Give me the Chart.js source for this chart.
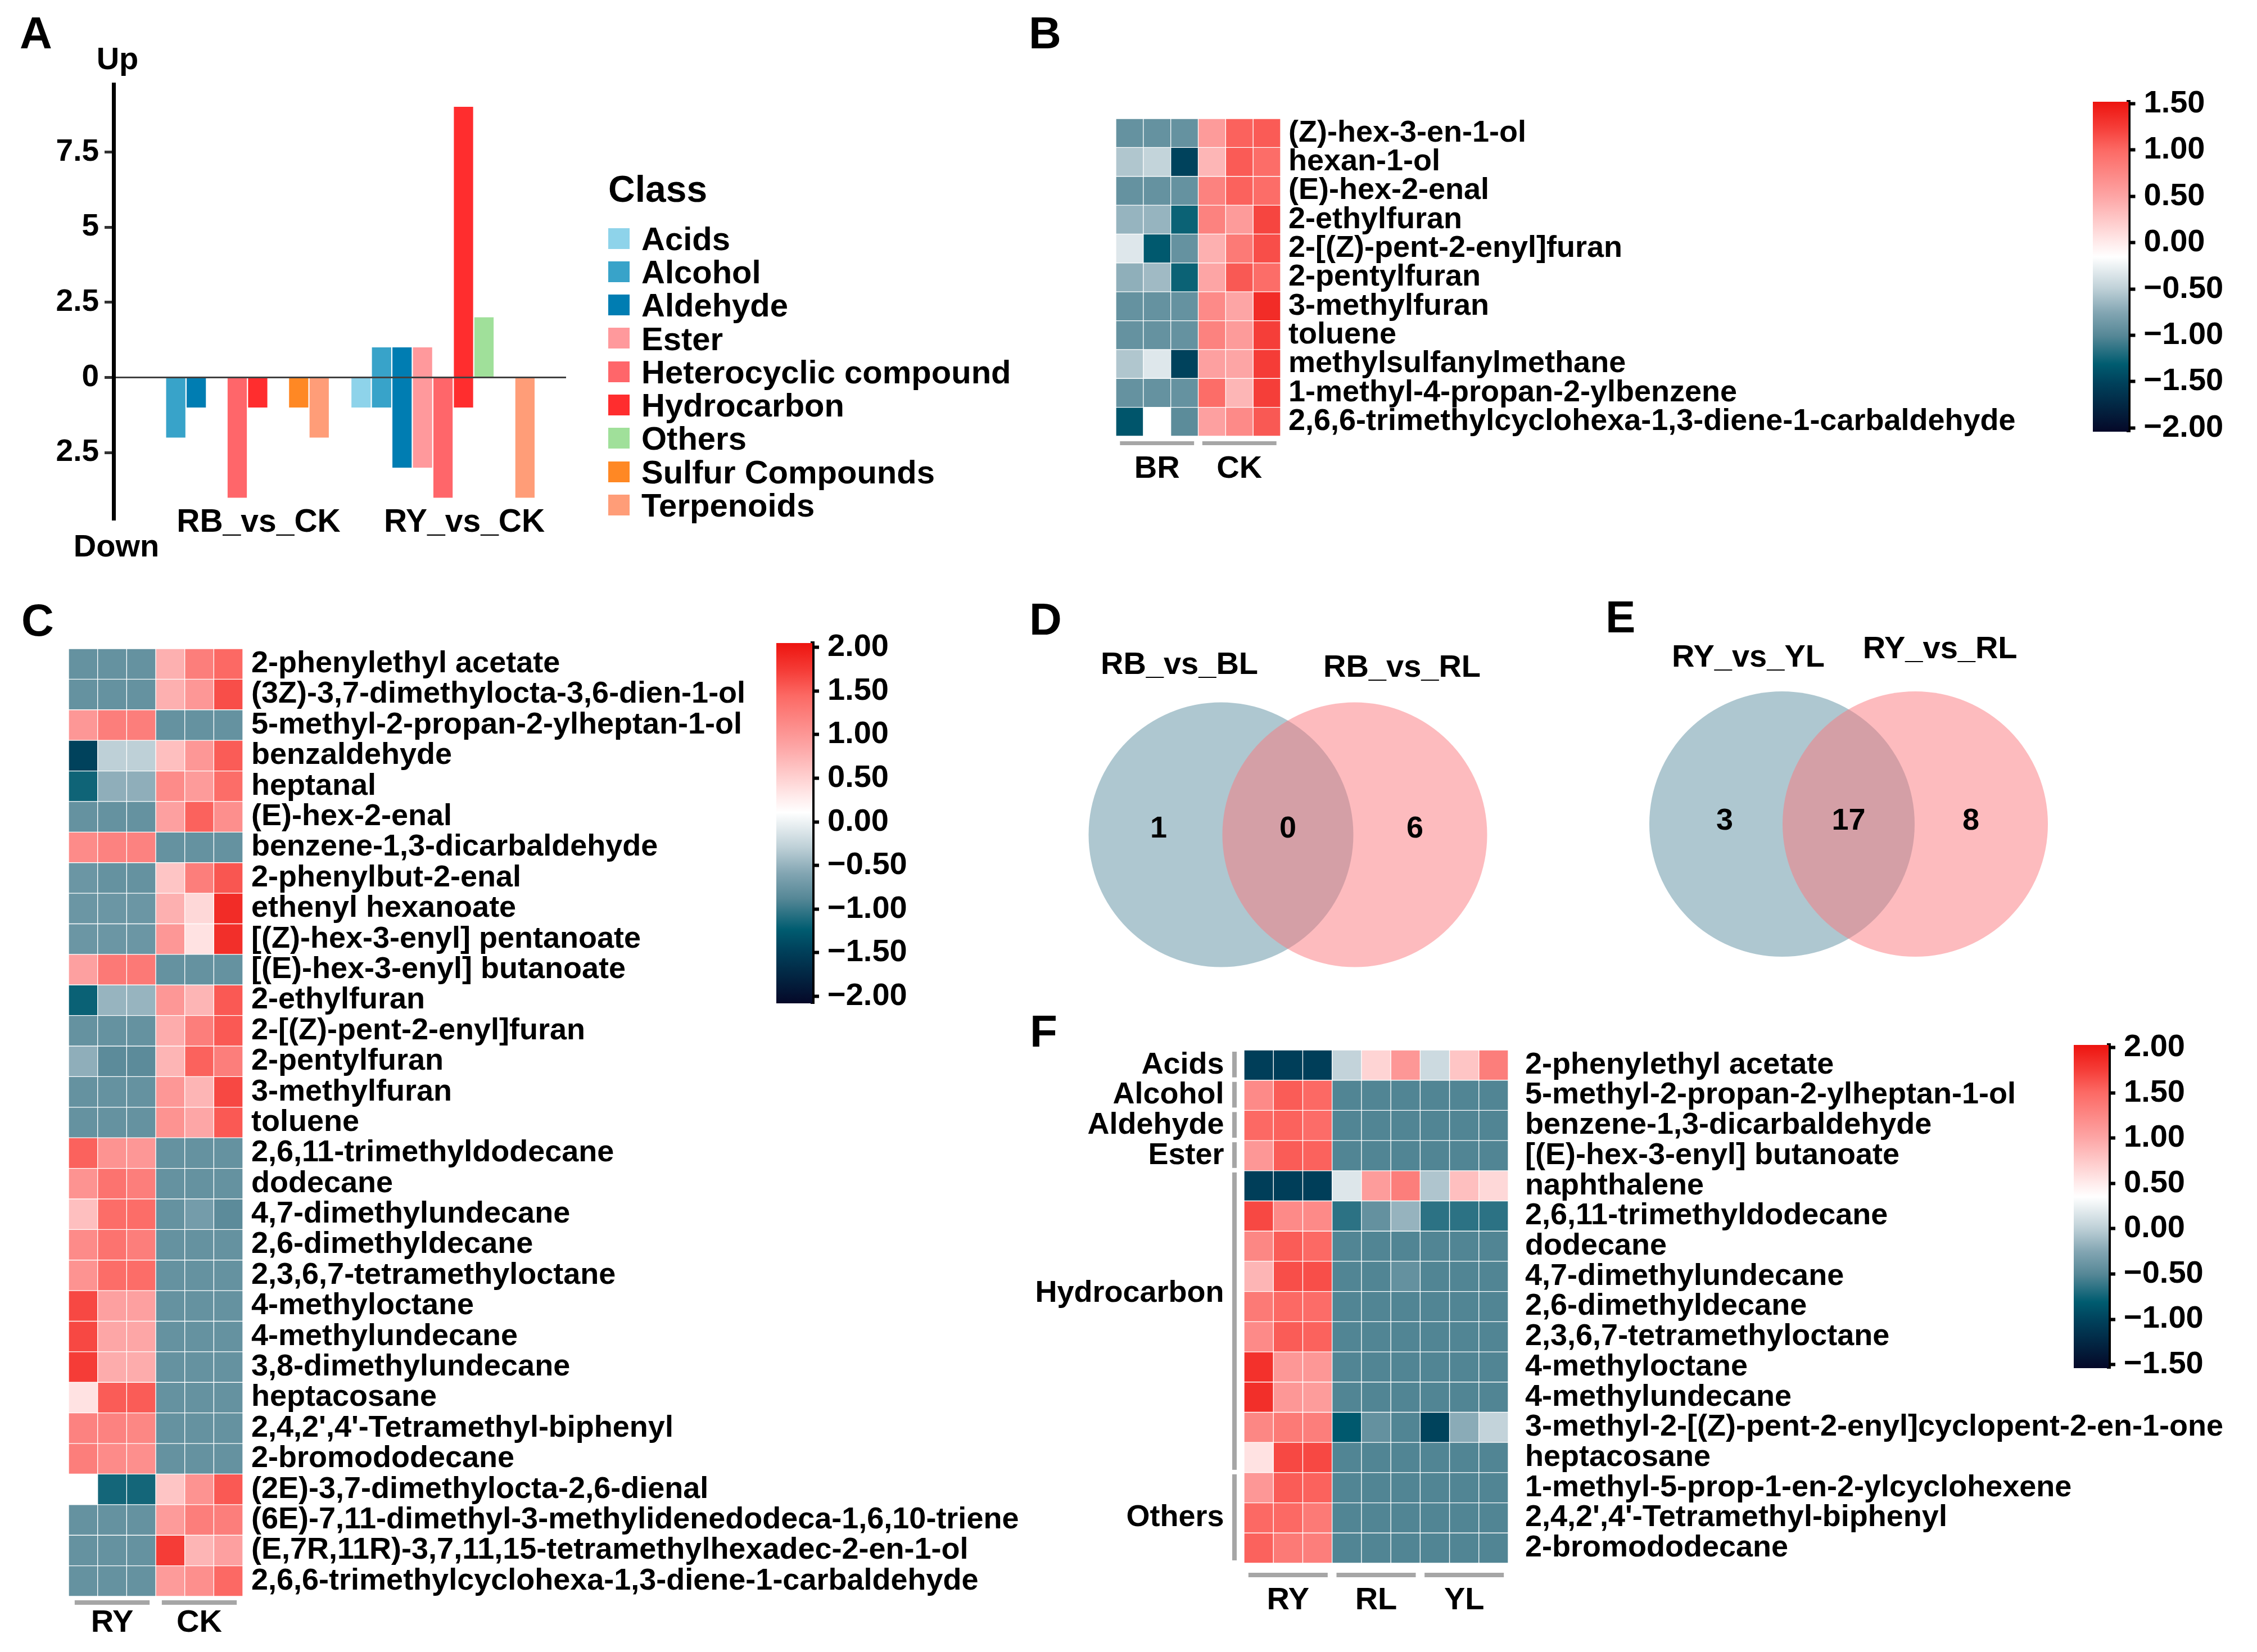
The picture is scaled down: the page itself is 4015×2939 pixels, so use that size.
<!DOCTYPE html>
<html>
<head>
<meta charset="utf-8">
<script src="https://cdn.jsdelivr.net/npm/chart.js@4.4.1/dist/chart.umd.min.js"></script>
<style>
  html, body { margin: 0; padding: 0; background: #fff; }
  #page { position: relative; width: 4015px; height: 2939px; overflow: hidden;
          font-family: 'Liberation Sans', Arial, sans-serif; font-weight: bold; color: #000; }
  canvas { position: absolute; }
  .txt { position: absolute; line-height: 1; white-space: nowrap; }
  .box { position: absolute; }
</style>
</head>
<body>
<div id="page">
  <canvas id="chartA" width="1010" height="1000" style="left:0px;top:0px"></canvas>
  <canvas id="heatB" width="1650" height="700" style="left:1985px;top:211px"></canvas>
  <canvas id="barB" width="292" height="687" style="left:3723px;top:131px"></canvas>
  <canvas id="heatC" width="1760" height="1785" style="left:122px;top:1154px"></canvas>
  <canvas id="barC" width="300" height="741" style="left:1381px;top:1094px"></canvas>
  <canvas id="vennD" width="800" height="660" style="left:1900px;top:1120px"></canvas>
  <canvas id="vennE" width="800" height="680" style="left:2900px;top:1090px"></canvas>
  <canvas id="heatF" width="2180" height="1071" style="left:1830px;top:1868px"></canvas>
  <canvas id="barF" width="320" height="675" style="left:3689px;top:1809px"></canvas>
</div>
<script>
// ---- Panel A data ----
const comparisons = ['RB_vs_CK', 'RY_vs_CK'];
const classes = ['Acids', 'Alcohol', 'Aldehyde', 'Ester', 'Heterocyclic compound',
                 'Hydrocarbon', 'Others', 'Sulfur Compounds', 'Terpenoids'];
const classColors = ['#8ED3EA', '#38A3C9', '#007DB2', '#FF999C', '#FF666A',
                     '#FF2D2E', '#A0E09A', '#FF8824', '#FF9D78'];
const upRB = [0, 0, 0, 0, 0, 0, 0, 0, 0];
const upRY = [0, 1, 1, 1, 0, 9, 2, 0, 0];
const downRB = [0, 2, 1, 0, 4, 1, 0, 1, 2];
const downRY = [1, 1, 3, 3, 4, 1, 0, 0, 4];
const yTicksA = [-2.5, 0, 2.5, 5, 7.5];

// ---- Panel B data ----
const bRows = ['(Z)-hex-3-en-1-ol', 'hexan-1-ol', '(E)-hex-2-enal', '2-ethylfuran',
  '2-[(Z)-pent-2-enyl]furan', '2-pentylfuran', '3-methylfuran', 'toluene',
  'methylsulfanylmethane', '1-methyl-4-propan-2-ylbenzene',
  '2,6,6-trimethylcyclohexa-1,3-diene-1-carbaldehyde'];
const bGroups = ['BR', 'CK'];
const bValues = [
  [-0.92, -0.92, -0.92, 0.58, 1.04, 1.08],
  [-0.56, -0.47, -1.51, 0.38, 1.08, 0.97],
  [-0.92, -0.92, -0.92, 0.79, 1.04, 0.97],
  [-0.67, -0.67, -1.27, 0.79, 0.58, 1.20],
  [-0.33, -1.33, -0.92, 0.42, 0.86, 1.15],
  [-0.70, -0.63, -1.27, 0.50, 1.09, 0.97],
  [-0.92, -0.92, -0.92, 0.72, 0.50, 1.36],
  [-0.92, -0.92, -0.92, 0.79, 0.58, 1.24],
  [-0.56, -0.33, -1.51, 0.54, 0.50, 1.25],
  [-0.92, -0.92, -0.92, 0.97, 0.38, 1.24],
  [-1.36, -0.15, -0.97, 0.54, 0.72, 1.09]
];
const bRange = [-2.04, 1.52];
const bTicks = [-2, -1.5, -1, -0.5, 0, 0.5, 1, 1.5];

// ---- Panel C data ----
const cRows = ['2-phenylethyl acetate', '(3Z)-3,7-dimethylocta-3,6-dien-1-ol',
  '5-methyl-2-propan-2-ylheptan-1-ol', 'benzaldehyde', 'heptanal', '(E)-hex-2-enal',
  'benzene-1,3-dicarbaldehyde', '2-phenylbut-2-enal', 'ethenyl hexanoate',
  '[(Z)-hex-3-enyl] pentanoate', '[(E)-hex-3-enyl] butanoate', '2-ethylfuran',
  '2-[(Z)-pent-2-enyl]furan', '2-pentylfuran', '3-methylfuran', 'toluene',
  '2,6,11-trimethyldodecane', 'dodecane', '4,7-dimethylundecane', '2,6-dimethyldecane',
  '2,3,6,7-tetramethyloctane', '4-methyloctane', '4-methylundecane', '3,8-dimethylundecane',
  'heptacosane', "2,4,2',4'-Tetramethyl-biphenyl", '2-bromododecane',
  '(2E)-3,7-dimethylocta-2,6-dienal', '(6E)-7,11-dimethyl-3-methylidenedodeca-1,6,10-triene',
  '(E,7R,11R)-3,7,11,15-tetramethylhexadec-2-en-1-ol',
  '2,6,6-trimethylcyclohexa-1,3-diene-1-carbaldehyde'];
const cGroups = ['RY', 'CK'];
const cValues = [
  [-0.78, -0.78, -0.78, 0.77, 1.24, 1.45],
  [-0.78, -0.78, -0.78, 0.77, 1.00, 1.62],
  [1.00, 1.24, 1.24, -0.78, -0.78, -0.78],
  [-1.46, -0.29, -0.29, 0.65, 1.00, 1.53],
  [-1.17, -0.53, -0.53, 1.12, 0.96, 1.41],
  [-0.78, -0.78, -0.78, 0.91, 1.49, 1.08],
  [1.12, 1.20, 1.20, -0.78, -0.78, -0.78],
  [-0.74, -0.78, -0.78, 0.60, 1.24, 1.57],
  [-0.74, -0.74, -0.74, 0.77, 0.44, 1.86],
  [-0.74, -0.74, -0.74, 1.00, 0.36, 1.84],
  [0.91, 1.29, 1.29, -0.78, -0.78, -0.78],
  [-1.19, -0.49, -0.49, 1.00, 0.73, 1.55],
  [-0.78, -0.78, -0.78, 0.81, 1.24, 1.55],
  [-0.53, -0.84, -0.84, 0.73, 1.49, 1.24],
  [-0.78, -0.78, -0.78, 1.00, 0.73, 1.66],
  [-0.78, -0.78, -0.78, 1.04, 0.86, 1.55],
  [1.49, 1.04, 1.00, -0.78, -0.78, -0.78],
  [1.04, 1.35, 1.24, -0.78, -0.78, -0.78],
  [0.65, 1.41, 1.41, -0.78, -0.68, -0.84],
  [1.12, 1.35, 1.24, -0.78, -0.78, -0.78],
  [1.04, 1.41, 1.41, -0.78, -0.78, -0.78],
  [1.66, 0.91, 0.91, -0.78, -0.78, -0.78],
  [1.66, 0.86, 0.86, -0.78, -0.78, -0.78],
  [1.74, 0.81, 0.81, -0.78, -0.78, -0.78],
  [0.36, 1.53, 1.53, -0.78, -0.78, -0.78],
  [1.20, 1.20, 1.16, -0.78, -0.78, -0.78],
  [1.24, 1.12, 1.08, -0.78, -0.78, -0.78],
  [0.11, -1.15, -1.15, 0.60, 1.04, 1.55],
  [-0.78, -0.78, -0.78, 0.96, 1.24, 1.24],
  [-0.78, -0.78, -0.78, 1.74, 0.73, 0.91],
  [-0.78, -0.78, -0.78, 0.96, 1.08, 1.45]
];
const cRange = [-2.08, 2.05];
const cTicks = [-2, -1.5, -1, -0.5, 0, 0.5, 1, 1.5, 2];

// ---- Panels D and E data ----
const dSets = ['RB_vs_BL', 'RB_vs_RL'];
const dCounts = [1, 0, 6];
const eSets = ['RY_vs_YL', 'RY_vs_RL'];
const eCounts = [3, 17, 8];

// ---- Panel F data ----
const fRows = ['2-phenylethyl acetate', '5-methyl-2-propan-2-ylheptan-1-ol',
  'benzene-1,3-dicarbaldehyde', '[(E)-hex-3-enyl] butanoate', 'naphthalene',
  '2,6,11-trimethyldodecane', 'dodecane', '4,7-dimethylundecane', '2,6-dimethyldecane',
  '2,3,6,7-tetramethyloctane', '4-methyloctane', '4-methylundecane',
  '3-methyl-2-[(Z)-pent-2-enyl]cyclopent-2-en-1-one', 'heptacosane',
  '1-methyl-5-prop-1-en-2-ylcyclohexene', "2,4,2',4'-Tetramethyl-biphenyl", '2-bromododecane'];
const fGroups = ['RY', 'RL', 'YL'];
const fClassNames = ['Acids', 'Alcohol', 'Aldehyde', 'Ester', 'Hydrocarbon', 'Others'];
const fClassSizes = [1, 1, 1, 1, 10, 3];
const fValues = [
  [-1.04, -1.04, -1.04, 0.03, 0.67, 1.12, 0.08, 0.78, 1.33],
  [1.23, 1.58, 1.51, -0.52, -0.52, -0.52, -0.52, -0.52, -0.52],
  [1.51, 1.55, 1.48, -0.52, -0.52, -0.52, -0.52, -0.52, -0.52],
  [1.12, 1.58, 1.55, -0.52, -0.52, -0.52, -0.52, -0.52, -0.52],
  [-1.04, -1.04, -1.04, 0.17, 1.08, 1.33, -0.06, 0.82, 0.64],
  [1.69, 1.23, 1.23, -0.65, -0.42, -0.17, -0.65, -0.65, -0.65],
  [1.26, 1.58, 1.51, -0.52, -0.52, -0.52, -0.52, -0.52, -0.52],
  [0.89, 1.66, 1.66, -0.52, -0.52, -0.42, -0.52, -0.52, -0.52],
  [1.37, 1.51, 1.48, -0.52, -0.52, -0.52, -0.52, -0.52, -0.52],
  [1.23, 1.58, 1.55, -0.52, -0.52, -0.52, -0.52, -0.52, -0.52],
  [1.83, 1.12, 1.12, -0.52, -0.52, -0.52, -0.52, -0.52, -0.52],
  [1.85, 1.12, 1.08, -0.52, -0.52, -0.52, -0.52, -0.52, -0.52],
  [1.26, 1.37, 1.33, -0.83, -0.42, -0.52, -1.00, -0.22, 0.03],
  [0.57, 1.69, 1.69, -0.52, -0.52, -0.52, -0.52, -0.52, -0.52],
  [1.12, 1.58, 1.55, -0.52, -0.52, -0.52, -0.52, -0.52, -0.52],
  [1.51, 1.51, 1.37, -0.52, -0.52, -0.52, -0.52, -0.52, -0.52],
  [1.55, 1.37, 1.33, -0.52, -0.52, -0.52, -0.52, -0.52, -0.52]
];
const fRange = [-1.54, 2.03];
const fTicks = [-1.5, -1, -0.5, 0, 0.5, 1, 1.5, 2];

// Colour ramp (navy - teal - white - red)
const palette = [
  [0.000, [5, 8, 40]],
  [0.150, [0, 66, 92]],
  [0.205, [0, 92, 112]],
  [0.290, [85, 135, 150]],
  [0.360, [130, 165, 178]],
  [0.433, [190, 208, 215]],
  [0.530, [255, 255, 255]],
  [0.573, [255, 235, 235]],
  [0.713, [253, 165, 165]],
  [0.854, [252, 105, 100]],
  [0.924, [245, 60, 55]],
  [1.000, [237, 20, 15]]
];

const FONT = "'Liberation Sans', Arial, sans-serif";
Chart.defaults.font.family = FONT;
Chart.defaults.font.weight = 'bold';
Chart.defaults.color = '#000';
Chart.defaults.animation = false;
Chart.defaults.plugins.legend.display = false;
Chart.defaults.plugins.tooltip.enabled = false;

const page = document.getElementById('page');

function paletteColor(t) {
    t = Math.max(0, Math.min(1, t));
    for (let i = 1; i < palette.length; i++) {
        const [t1, c1] = palette[i];
        if (t <= t1) {
            const [t0, c0] = palette[i - 1];
            const f = (t - t0) / (t1 - t0);
            return 'rgb(' + c0.map((v, k) => Math.round(v + (c1[k] - v) * f)).join(',') + ')';
        }
    }
    return 'rgb(' + palette[palette.length - 1][1].join(',') + ')';
}

function fmtKey(v) {
    return (v < 0 ? '\u2212' : '') + Math.abs(v).toFixed(2);
}

// Plain text placed by cap top
function addText(text, x, capTop, size, align) {
    const d = document.createElement('div');
    d.className = 'txt';
    d.textContent = text;
    d.style.fontSize = size + 'px';
    d.style.top = (capTop - 0.13 * size) + 'px';
    d.style.left = x + 'px';
    if (align === 'center') d.style.transform = 'translateX(-50%)';
    page.appendChild(d);
}

// Gray bars under column groups
const groupBars = {
    id: 'groupBars',
    afterDraw(chart, args, o) {
        const {ctx, chartArea, scales: {x}} = chart;
        ctx.save();
        ctx.fillStyle = '#A6A6A6';
        o.spans.forEach(([a, b]) => {
            const x1 = x.getPixelForValue(a);
            const x2 = x.getPixelForValue(b);
            const w = x2 - x1;
            ctx.fillRect(x1 + w * o.inset, chartArea.bottom + o.gap, w * (1 - 2 * o.inset), o.thick);
        });
        ctx.restore();
    }
};

// Row class annotation on the left of panel F
const sideGroups = {
    id: 'sideGroups',
    afterDraw(chart, args, o) {
        if (!o.names) return;
        const {ctx, chartArea, scales: {y}} = chart;
        const h = (chartArea.bottom - chartArea.top) / chart.data.labels.length;
        let start = 0;
        ctx.save();
        ctx.font = 'bold 54px ' + FONT;
        ctx.textAlign = 'right';
        ctx.textBaseline = 'middle';
        o.names.forEach((name, k) => {
            const end = start + o.sizes[k] - 1;
            const top = y.getPixelForValue(start) - h / 2;
            const bottom = y.getPixelForValue(end) + h / 2;
            ctx.fillStyle = '#A6A6A6';
            ctx.fillRect(chartArea.left - 21, top + 3, 8, bottom - top - 8);
            ctx.fillStyle = '#000';
            ctx.fillText(name, chartArea.left - 35.5, (top + bottom) / 2 + (o.shift[k] || 0));
            start = end + 1;
        });
        ctx.restore();
    }
};

// Heatmap made of floating horizontal bars, one dataset per sample column
function drawHeatmap(id, rows, groups, values, range, lay) {
    const nCols = values[0].length;
    const per = nCols / groups.length;
    const centers = groups.map((g, k) => k * per + per / 2);
    const datasets = [];
    for (let j = 0; j < nCols; j++) {
        datasets.push({
            data: rows.map(() => [j, j + 1]),
            backgroundColor: values.map(r => paletteColor((r[j] - range[0]) / (range[1] - range[0]))),
            borderColor: '#ffffff',
            borderWidth: 1,
            borderSkipped: false,
            barPercentage: 1,
            categoryPercentage: 1,
            grouped: false
        });
    }
    new Chart(document.getElementById(id), {
        type: 'bar',
        data: { labels: rows, datasets },
        options: {
            indexAxis: 'y',
            responsive: false,
            devicePixelRatio: 1,
            layout: { padding: { left: lay.padLeft || 0, top: 0, right: 0, bottom: 0 } },
            scales: {
                x: {
                    type: 'linear', min: 0, max: nCols, offset: false,
                    grid: { display: false, drawTicks: false },
                    border: { display: false },
                    afterBuildTicks: s => { s.ticks = centers.map(v => ({ value: v })); },
                    ticks: {
                        callback: v => groups[centers.indexOf(v)],
                        font: { size: 56, lineHeight: 1 },
                        padding: lay.xPad, maxRotation: 0, minRotation: 0, autoSkip: false
                    },
                    afterFit: s => { s.height = lay.xHeight; }
                },
                y: {
                    type: 'category', position: 'right',
                    grid: { display: false, drawTicks: false },
                    border: { display: false },
                    ticks: { autoSkip: false, font: { size: 54, lineHeight: 1 }, padding: lay.yPad },
                    afterFit: s => {
                        s.width = lay.yWidth;
                        s.paddingTop = 0;
                        s.paddingBottom = 0;
                    }
                }
            },
            plugins: {
                groupBars: {
                    spans: groups.map((g, k) => [k * per, (k + 1) * per]),
                    gap: lay.barGap, thick: lay.barThick, inset: lay.barInset
                },
                sideGroups: lay.side || {}
            }
        },
        plugins: [groupBars, sideGroups]
    });
}

// Colour key: one floating bar with a gradient, axis on the right
function drawColorKey(id, range, ticks, lay) {
    new Chart(document.getElementById(id), {
        type: 'bar',
        data: {
            labels: [''],
            datasets: [{
                data: [[range[0], range[1]]],
                backgroundColor: c => {
                    const area = c.chart.chartArea;
                    if (!area) return '#ffffff';
                    const g = c.chart.ctx.createLinearGradient(0, area.bottom, 0, area.top);
                    palette.forEach(([t, rgb]) => g.addColorStop(t, 'rgb(' + rgb.join(',') + ')'));
                    return g;
                },
                borderWidth: 0,
                barPercentage: 1,
                categoryPercentage: 1
            }]
        },
        options: {
            responsive: false,
            devicePixelRatio: 1,
            layout: { padding: { top: lay.padTop, bottom: lay.padBottom, left: 0, right: 0 } },
            scales: {
                x: { display: false },
                y: {
                    position: 'right', min: range[0], max: range[1],
                    afterBuildTicks: s => { s.ticks = ticks.map(v => ({ value: v })); },
                    ticks: { callback: v => fmtKey(v), font: { size: 56, lineHeight: 1 }, padding: 15 },
                    grid: { drawOnChartArea: false, drawTicks: true, tickLength: 12,
                            tickWidth: 6, tickColor: '#000', color: '#000' },
                    border: { display: true, color: '#000', width: 7 },
                    afterFit: s => { s.width = lay.axisWidth; }
                }
            }
        }
    });
}

// Venn text: set names and region counts
const vennText = {
    id: 'vennText',
    afterDatasetsDraw(chart, args, o) {
        const {ctx, scales: {x, y}} = chart;
        ctx.save();
        ctx.fillStyle = '#000';
        ctx.textAlign = 'center';
        ctx.textBaseline = 'middle';
        ctx.font = 'bold 56px ' + FONT;
        o.sets.forEach((s, i) => {
            ctx.fillText(s, x.getPixelForValue(o.namePos[i][0]), y.getPixelForValue(o.namePos[i][1]));
        });
        ctx.font = 'bold 54px ' + FONT;
        o.counts.forEach((n, i) => {
            ctx.fillText(String(n), x.getPixelForValue(o.countX[i]), y.getPixelForValue(o.countY));
        });
        ctx.restore();
    }
};

function drawVenn(id, sets, counts, lay) {
    const fills = ['rgba(93,143,161,0.5)', 'rgba(251,119,125,0.5)'];
    new Chart(document.getElementById(id), {
        type: 'scatter',
        data: {
            datasets: sets.map((s, i) => ({
                label: s,
                data: [{ x: i - 0.5, y: 0 }],
                order: sets.length - i,        // second set painted on top
                pointRadius: lay.r,
                pointHoverRadius: lay.r,
                pointBackgroundColor: fills[i],
                pointBorderWidth: 0,
                clip: false
            }))
        },
        options: {
            responsive: false,
            devicePixelRatio: 1,
            layout: { padding: 0, autoPadding: false },
            scales: {
                x: { display: false, min: lay.xMin, max: lay.xMax },
                y: { display: false, min: lay.yMin, max: lay.yMax }
            },
            plugins: {
                vennText: { sets, counts, namePos: lay.namePos, countX: lay.countX, countY: lay.countY }
            }
        },
        plugins: [vennText]
    });
}

// ---- Panel A: diverging bar chart ----
function drawPanelA() {
    const datasets = [];
    classes.forEach((c, i) => {
        datasets.push({
            label: c, stack: c, backgroundColor: classColors[i],
            data: [{ x: 1, y: upRB[i] || null }, { x: 2, y: upRY[i] || null }]
        });
        datasets.push({
            label: c, stack: c, backgroundColor: classColors[i],
            data: [{ x: 1, y: downRB[i] ? -downRB[i] : null }, { x: 2, y: downRY[i] ? -downRY[i] : null }]
        });
    });
    new Chart(document.getElementById('chartA'), {
        type: 'bar',
        data: { datasets },
        options: {
            responsive: false,
            devicePixelRatio: 1,
            datasets: { bar: { barPercentage: 0.94, categoryPercentage: 0.896 } },
            layout: { padding: { top: 150, right: 3, left: 0, bottom: 0 } },
            scales: {
                x: {
                    type: 'linear', min: 0.399, max: 2.598, offset: false,
                    grid: { display: false, drawTicks: false },
                    border: { display: false },
                    afterBuildTicks: s => { s.ticks = comparisons.map((c, k) => ({ value: k + 1 })); },
                    ticks: {
                        callback: v => comparisons[v - 1],
                        font: { size: 57, lineHeight: 1 },
                        mirror: true, padding: -33.5, labelOffset: 38,
                        maxRotation: 0, minRotation: 0, autoSkip: false
                    },
                    afterFit: s => { s.height = 75; }
                },
                y: {
                    min: -4.74, max: 9.75, stacked: true, z: 1,
                    afterBuildTicks: s => { s.ticks = yTicksA.map(v => ({ value: v })); },
                    ticks: { callback: v => String(Math.abs(v)), font: { size: 55, lineHeight: 1 }, padding: 10 },
                    grid: {
                        color: c => (c.tick && c.tick.value === 0) ? '#404040' : 'rgba(0,0,0,0)',
                        lineWidth: c => (c.tick && c.tick.value === 0) ? 3 : 1,
                        drawTicks: true, tickLength: 16, tickWidth: 5, tickColor: '#333333'
                    },
                    border: { display: true, color: '#000', width: 7 },
                    afterFit: s => { s.width = 202; }
                }
            }
        }
    });

    // legend
    addText('Class', 1082, 312, 66);
    classes.forEach((c, i) => {
        const cy = 424 + i * 59.3;
        const b = document.createElement('div');
        b.className = 'box';
        b.style.left = '1082px';
        b.style.top = (cy - 18.5) + 'px';
        b.style.width = '38px';
        b.style.height = '37px';
        b.style.background = classColors[i];
        page.appendChild(b);
        addText(c, 1141, cy - 20.8, 58);
    });
    addText('Up', 209, 83, 56, 'center');
    addText('Down', 207, 950, 56, 'center');
}

function init() {
    drawPanelA();

    drawHeatmap('heatB', bRows, bGroups, bValues, bRange,
        { yWidth: 1357, xHeight: 135, yPad: 14, xPad: 31, barGap: 9, barThick: 7, barInset: 0.05 });
    drawColorKey('barB', bRange, bTicks, { padTop: 50, padBottom: 50, axisWidth: 228.5 });

    drawHeatmap('heatC', cRows, cGroups, cValues, cRange,
        { yWidth: 1450, xHeight: 99, yPad: 15, xPad: 20, barGap: 7, barThick: 8, barInset: 0.07 });
    drawColorKey('barC', cRange, cTicks, { padTop: 50, padBottom: 50, axisWidth: 236 });

    drawVenn('vennD', dSets, dCounts, {
        r: 235.5, xMin: -1.6429, xMax: 1.7185, yMin: -1.2395, yMax: 1.5336,
        namePos: [[-0.811, 1.265], [0.853, 1.244]], countX: [-0.966, 0, 0.95], countY: 0.04
    });
    drawVenn('vennE', eSets, eCounts, {
        r: 236, xMin: -1.639, xMax: 1.736, yMin: -1.2827, yMax: 1.5865,
        namePos: [[-0.753, 1.245], [0.686, 1.308]], countX: [-0.93, 0, 0.918], countY: 0.02
    });

    drawHeatmap('heatF', fRows, fGroups, fValues, fRange,
        { padLeft: 383, yWidth: 1327, xHeight: 158, yPad: 30, xPad: 39, barGap: 17, barThick: 8, barInset: 0.05,
          side: { names: fClassNames, sizes: fClassSizes, shift: [0, 0, 0, 0, -50, 0] } });
    drawColorKey('barF', fRange, fTicks, { padTop: 50, padBottom: 50, axisWidth: 258 });

    // panel letters
    addText('A', 35, 29, 80);
    addText('B', 1830, 29, 80);
    addText('C', 38, 1074, 80);
    addText('D', 1831, 1072, 80);
    addText('E', 2856, 1068, 80);
    addText('F', 1832, 1805, 80);
}

document.addEventListener('DOMContentLoaded', init);
</script>
</body>
</html>
